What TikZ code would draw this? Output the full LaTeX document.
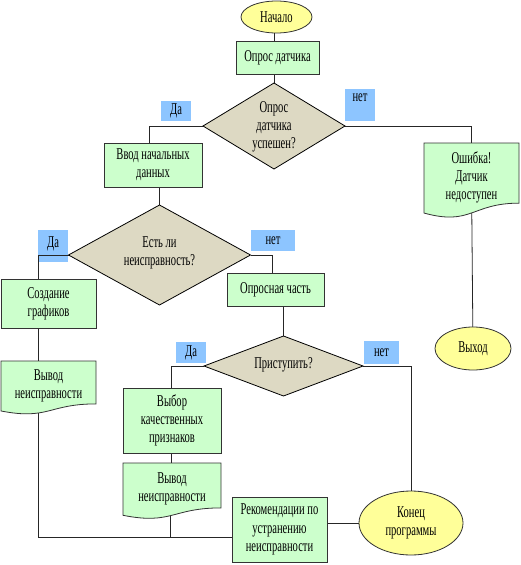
\documentclass[tikz,border=0pt]{standalone}
\usepackage{fontspec}
\setmainfont{Liberation Serif}[FakeStretch=0.64]
\usetikzlibrary{shapes.geometric,calc}
\pgfdeclarelayer{lab}
\pgfdeclarelayer{lines}
\pgfdeclarelayer{bg}
\pgfsetlayers{lab,lines,bg,main}
\definecolor{boxgreen}{HTML}{CCFFCC}
\definecolor{diatan}{HTML}{DDD9C3}
\definecolor{ellyel}{HTML}{FFFF99}
\definecolor{labblue}{HTML}{8DC5FF}
\definecolor{edge}{HTML}{333333}
\tikzset{
  txt/.style={align=center, inner sep=0pt, font=\fontsize{16.5}{18.3}\selectfont},
  procbox/.style={txt, draw=edge, fill=boxgreen, line width=0.8pt, outer sep=0pt},
  dec/.style={diamond, draw=black, fill=diatan, line width=0.8pt, inner sep=0pt, outer sep=0pt},
  term/.style={txt, ellipse, draw=edge, fill=ellyel, line width=0.8pt, outer sep=0pt},
  lab/.style={txt, fill=labblue, outer sep=0pt},
  docst/.style={draw=edge, fill=boxgreen, line width=0.8pt},
  conn/.style={draw=black!85, line width=0.8pt},
}
\newcommand\docbox[6]{%
  \node[draw=none, inner sep=0pt, outer sep=0pt, minimum width=#4pt, minimum height=#5pt, anchor=north west] (#1) at (#2,#3) {};
  \node[txt] (#1-t) at ($(#1.north)!0.46!(#1.south)$) {#6};
  \begin{pgfonlayer}{bg}
  \draw[docst] (#1.north west) -- (#1.north east) -- ($(#1.north east)!0.802!(#1.south east)$)
     .. controls ($(#1.north)!0.802!(#1.south)$) and ($(#1.north)!1.108!(#1.south)$) ..
     ($(#1.north west)!0.934!(#1.south west)$) -- cycle;
  \end{pgfonlayer}}
\begin{document}
\begin{tikzpicture}[x=1pt, y=-1pt]
\useasboundingbox (0,0) rectangle (520,565);

% terminals
\node[term, minimum width=71pt, minimum height=32pt] (start) at (276.5,17) {Начало};
\node[term, minimum width=76pt, minimum height=43pt] (exit) at (473,348.5) {Выход};
\node[term, minimum width=104pt, minimum height=64pt] (konec) at (411,523) {Конец\\программы};

% process boxes
\node[procbox, minimum width=83pt, minimum height=33pt] (opros) at (277.5,57.5) {Опрос датчика};
\node[procbox, minimum width=98pt, minimum height=44pt] (vvod) at (153,165) {Ввод начальных\\данных};
\node[procbox, minimum width=95pt, minimum height=49pt] (sozd) at (48.5,303.5) {Создание\\графиков};
\node[procbox, minimum width=97pt, minimum height=33pt] (oprch) at (275.5,289.5) {Опросная часть};
\node[procbox, minimum width=98pt, minimum height=65pt] (vybor) at (172,420.5) {Выбор\\качественных\\признаков};
\node[procbox, minimum width=95pt, minimum height=65pt] (rek) at (279.5,529.5) {Рекомендации по\\устранению\\неисправности};

% decisions
\node[dec, minimum width=142pt, minimum height=86pt] (d1) at (274,126) {};
\node[txt] (d1t) at (274,127) {Опрос\\датчика\\успешен?};
\node[dec, minimum width=182pt, minimum height=100pt] (d2) at (159.5,255) {};
\node[txt] (d2t) at (159.5,253) {Есть ли\\неисправность?};
\node[dec, minimum width=159pt, minimum height=60pt] (d3) at (283.5,366) {};
\node[txt] (d3t) at (283.5,365) {Приступить?};

% documents
\docbox{err}{424}{143}{95}{75}{Ошибка!\\Датчик\\недоступен}
\docbox{vyv1}{1}{361}{95}{53.5}{Вывод\\неисправности}
\docbox{vyv2}{123}{463}{98}{56}{Вывод\\неисправности}

% labels
\begin{pgfonlayer}{lab}
\node[lab, minimum width=30pt, minimum height=20pt] (da1) at (176,111) {Да};
\node[lab, minimum width=30pt, minimum height=32pt, text depth=14pt] (net1) at (360,105) {нет};
\node[lab, minimum width=30pt, minimum height=32pt, text depth=8pt] (da2) at (53,246) {Да};
\node[lab, minimum width=44pt, minimum height=21pt] (net2) at (273,240.5) {нет};
\node[lab, minimum width=30pt, minimum height=21pt] (da3) at (191,352.5) {Да};
\node[lab, minimum width=35pt, minimum height=23pt] (net3) at (381.5,352.5) {нет};
\end{pgfonlayer}

% connectors
\begin{pgfonlayer}{lines}
\coordinate (rekin) at ([yshift=-8pt]rek.west);
\draw[conn] (d1.north |- start.south) -- (d1.north |- opros.north);
\draw[conn] (d1.north |- opros.south) -- (d1.north);
\draw[conn] (d1.west) -| ([xshift=-4pt]vvod.north);
\draw[conn] (d1.east) -| (err.north);
\draw[conn] (err.center) -- (exit.center);
\draw[conn] (d2.north |- vvod.south) -- (d2.north);
\draw[conn] (d2.west) -| ([xshift=-10pt]sozd.north);
\draw[conn] ([xshift=-10pt]sozd.south) -- ([xshift=-10pt]vyv1.north);
\draw[conn] (d2.east) -| ([xshift=-3.5pt]oprch.north);
\draw[conn] (d3.north |- oprch.south) -- (d3.north);
\draw[conn] (d3.west) -| ([xshift=-1pt]vybor.north);
\draw[conn] (d3.east) -| (konec.north);
\draw[conn] ([xshift=-1pt]vybor.south) -- ([xshift=-1pt]vyv2.north);
\draw[conn] ([xshift=-10pt]vyv1.center) |- (rekin);
\draw[conn] ([xshift=-2pt]vyv2.center) -- ([xshift=-2pt]vyv2.center |- rekin);
\draw[conn] (konec.west) -- (konec.west -| rek.east);
\end{pgfonlayer}
\end{tikzpicture}
\end{document}
